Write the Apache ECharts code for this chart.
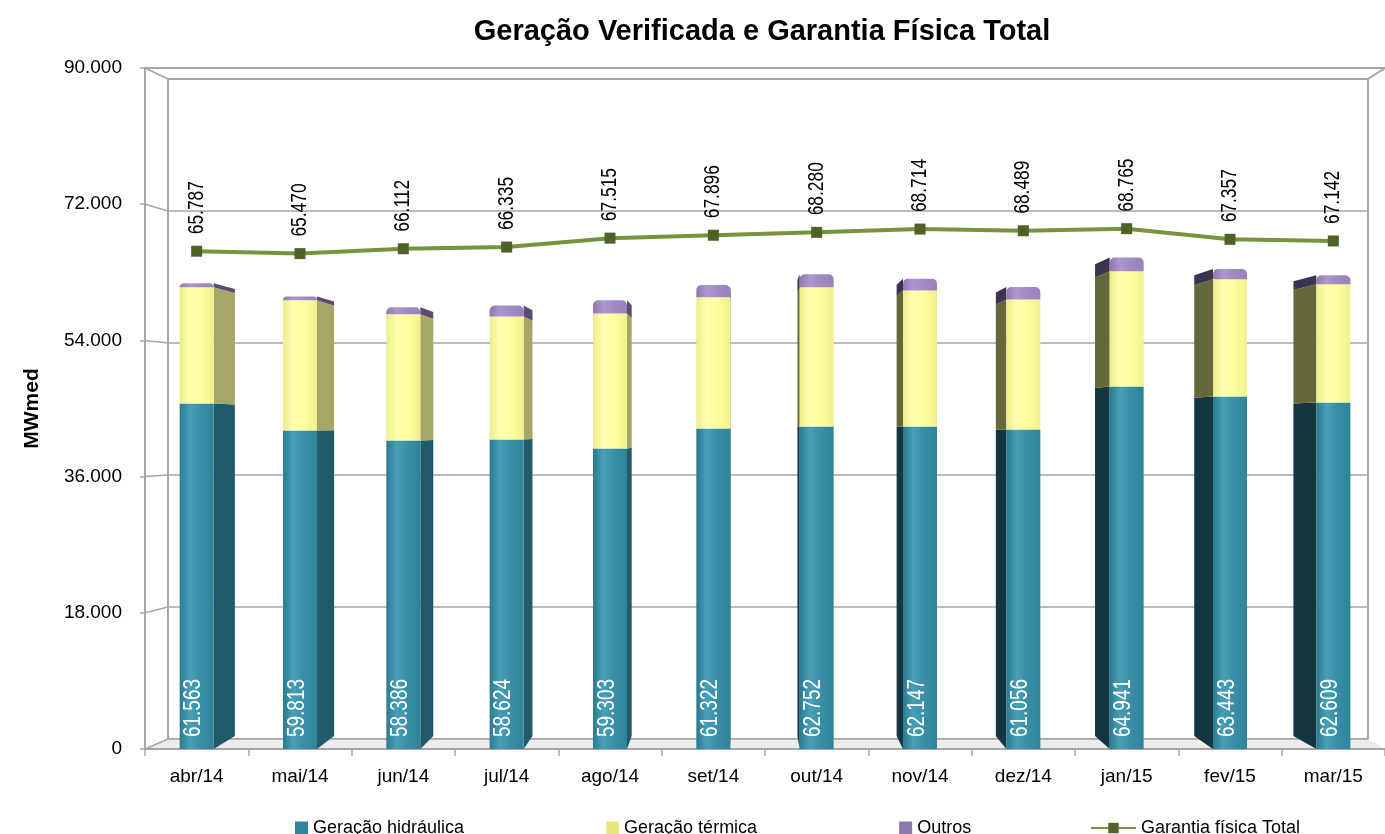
<!DOCTYPE html>
<html>
<head>
<meta charset="utf-8">
<script src="https://cdn.jsdelivr.net/npm/echarts@6/dist/echarts.min.js"></script>
<style>
  html, body { margin: 0; padding: 0; background: #fff; }
  #chart { width: 1385px; height: 834px; }
</style>
</head>
<body>
<div id="chart"></div>
<script>
const meses = ['abr/14', 'mai/14', 'jun/14', 'jul/14', 'ago/14', 'set/14', 'out/14', 'nov/14', 'dez/14', 'jan/15', 'fev/15', 'mar/15']
const hidraulica = [45660, 42090, 40760, 40890, 39700, 42350, 42620, 42620, 42220, 47910, 46590, 45790]
const termica = [15350, 17200, 16680, 16280, 17870, 17340, 18390, 17990, 17200, 15220, 15480, 15620]
const outros = [553, 523, 946, 1454, 1733, 1632, 1742, 1537, 1636, 1811, 1373, 1199]
const totalVerificado = [61563, 59813, 58386, 58624, 59303, 61322, 62752, 62147, 61056, 64941, 63443, 62609]
const garantia = [65787, 65470, 66112, 66335, 67515, 67896, 68280, 68714, 68489, 68765, 67357, 67142]
const yTicks = [0, 18000, 36000, 54000, 72000, 90000]

const SANS = '"Liberation Sans", Arial, sans-serif'

// front frame and back wall of the fake 3D box
const FRONT = { left: 145, right: 1385, top: 68, bottom: 749 }
const BACK = { left: 168, right: 1368, top: 79, bottom: 739 }
const VP = [744, 426]
const DEPTH = 0.96
const HALF = 17

const fmt = v => String(Math.round(v)).replace(/\B(?=(\d{3})+(?!\d))/g, '.')

const estilos = [
  { front: ['#2b7a90', '#47a0b7', '#3a8fa6', '#2f8399'], right: '#215a69', left: '#153540' },
  { front: ['#ecec8a', '#ffffb0', '#ffffa0', '#f0f08e'], right: '#a6a666', left: '#67673c' },
  { front: ['#8f78b0', '#ad97cf', '#a18bc4', '#9882ba'], right: '#5c4a72', left: '#3d3250' }
]

const proj = (x, y) => [VP[0] + (x - VP[0]) * DEPTH, VP[1] + (y - VP[1]) * DEPTH]

// vertical, slightly condensed text (scaleX squeezes along the reading direction)
const textoVertical = (x, y, text, color, size) => ({
  type: 'text',
  x: x,
  y: y,
  rotation: Math.PI / 2,
  scaleX: 0.79,
  style: { text, fill: color, fontSize: size, fontFamily: SANS, align: 'left', verticalAlign: 'middle' }
})

const makeRender = (idx) => (params, api) => {
  const i = api.value(0)
  const lo = api.value(1)
  const hi = api.value(2)
  const pLo = api.coord([i, lo])
  const pHi = api.coord([i, hi])
  const cx = pLo[0]
  const xl = cx - HALF
  const xr = cx + HALF
  const yT = pHi[1]
  const yB = pLo[1]
  const st = estilos[idx]
  const children = []
  if (xr < VP[0]) {
    children.push({
      type: 'polygon',
      shape: { points: [[xr, yT], proj(xr, yT), proj(xr, yB), [xr, yB]] },
      style: { fill: st.right }
    })
  } else if (xl > VP[0]) {
    children.push({
      type: 'polygon',
      shape: { points: [[xl, yT], proj(xl, yT), proj(xl, yB), [xl, yB]] },
      style: { fill: st.left }
    })
  }
  children.push({
    type: 'rect',
    shape: { x: xl, y: yT, width: HALF * 2, height: yB - yT, r: idx === 2 ? [5, 5, 0, 0] : 0 },
    style: {
      fill: new echarts.graphic.LinearGradient(0, 0, 1, 0, [
        { offset: 0, color: st.front[0] },
        { offset: 0.3, color: st.front[1] },
        { offset: 0.6, color: st.front[2] },
        { offset: 1, color: st.front[3] }
      ])
    }
  })
  if (idx === 0) {
    // total generation label at the foot of the bar
    children.push(textoVertical(cx - 3, yB - 12, fmt(totalVerificado[i]), '#fff', 24))
  }
  return { type: 'group', children }
}

const renderRotulo = (params, api) => {
  const p = api.coord([api.value(0), api.value(1)])
  return textoVertical(p[0], p[1] - 17, fmt(api.value(1)), '#000', 22)
}

const dadosHid = meses.map((m, i) => [i, 0, hidraulica[i]])
const dadosTer = meses.map((m, i) => [i, hidraulica[i], hidraulica[i] + termica[i]])
const dadosOut = meses.map((m, i) => [i, hidraulica[i] + termica[i], hidraulica[i] + termica[i] + outros[i]])
const dadosGar = meses.map((m, i) => [i, garantia[i]])

const yFront = v => FRONT.bottom - v * (FRONT.bottom - FRONT.top) / 90000
const yBack = v => BACK.bottom - v * (BACK.bottom - BACK.top) / 90000

const decor = [
  {
    type: 'polygon',
    z: 0,
    shape: { points: [[FRONT.left, FRONT.bottom], [BACK.left, BACK.bottom], [BACK.right, BACK.bottom], [FRONT.right, FRONT.bottom]] },
    style: { fill: '#ececec' }
  },
  {
    type: 'line',
    z: 1,
    shape: { x1: FRONT.right, y1: FRONT.top, x2: BACK.right, y2: BACK.top },
    style: { stroke: '#a6a6a6', lineWidth: 2 }
  }
]
yTicks.forEach(v => {
  decor.push({
    type: 'line',
    z: 1,
    shape: { x1: FRONT.left, y1: yFront(v), x2: BACK.left, y2: yBack(v) },
    style: { stroke: '#a6a6a6', lineWidth: 1.5 }
  })
})

const chart = echarts.init(document.getElementById('chart'))
const option = {
  animation: false,
  backgroundColor: '#fff',
  title: {
    text: 'Geração Verificada e Garantia Física Total',
    left: 757,
    textAlign: 'center',
    top: 12,
    textStyle: { fontFamily: SANS, fontWeight: 'bold', fontSize: 29, color: '#000' }
  },
  legend: [
    {
      data: ['Geração hidráulica', 'Geração térmica', 'Outros'],
      left: 290,
      top: 814,
      icon: 'rect',
      itemWidth: 13,
      itemHeight: 13,
      itemGap: 142,
      textStyle: { fontFamily: SANS, fontSize: 18, color: '#000' }
    },
    {
      data: ['Garantia física Total'],
      left: 1085,
      top: 814,
      itemWidth: 45,
      itemHeight: 13,
      textStyle: { fontFamily: SANS, fontSize: 18, color: '#000' }
    }
  ],
  grid: [
    {
      left: FRONT.left,
      top: FRONT.top,
      width: FRONT.right - FRONT.left,
      height: FRONT.bottom - FRONT.top
    },
    {
      left: BACK.left,
      top: BACK.top,
      width: BACK.right - BACK.left,
      height: BACK.bottom - BACK.top,
      show: true,
      borderColor: '#a6a6a6',
      borderWidth: 2,
      backgroundColor: 'transparent'
    }
  ],
  xAxis: [
    {
      type: 'category',
      gridIndex: 0,
      data: meses,
      boundaryGap: true,
      axisLine: { lineStyle: { color: '#a6a6a6', width: 2 } },
      axisTick: { show: true, length: 7, lineStyle: { color: '#a6a6a6', width: 1.5 } },
      axisLabel: { fontFamily: SANS, fontSize: 19, color: '#000', margin: 18, interval: 0 }
    },
    {
      type: 'category',
      gridIndex: 0,
      position: 'top',
      data: meses,
      axisLine: { lineStyle: { color: '#a6a6a6', width: 2 } },
      axisTick: { show: false },
      axisLabel: { show: false }
    },
    {
      type: 'category',
      gridIndex: 1,
      data: meses,
      show: false
    }
  ],
  yAxis: [
    {
      type: 'value',
      gridIndex: 0,
      min: yTicks[0],
      max: yTicks[yTicks.length - 1],
      interval: 18000,
      name: 'MWmed',
      nameLocation: 'middle',
      nameRotate: 90,
      nameGap: 102,
      nameTextStyle: { fontFamily: SANS, fontWeight: 'bold', fontSize: 21, color: '#000' },
      axisLine: { show: true, lineStyle: { color: '#a6a6a6', width: 2 } },
      axisTick: { show: true, length: 5, lineStyle: { color: '#a6a6a6', width: 1.5 } },
      axisLabel: { fontFamily: SANS, fontSize: 19, color: '#000', margin: 23, formatter: v => fmt(v) },
      splitLine: { show: false }
    },
    {
      type: 'value',
      gridIndex: 1,
      min: yTicks[0],
      max: yTicks[yTicks.length - 1],
      interval: 18000,
      axisLine: { show: false },
      axisTick: { show: false },
      axisLabel: { show: false },
      splitLine: { show: true, lineStyle: { color: '#a6a6a6', width: 1.5 } }
    }
  ],
  graphic: decor,
  series: [
    {
      name: 'Geração hidráulica',
      type: 'custom',
      xAxisIndex: 0,
      yAxisIndex: 0,
      z: 3,
      itemStyle: { color: '#31849b' },
      encode: { x: 0, y: [1, 2] },
      data: dadosHid,
      renderItem: makeRender(0)
    },
    {
      name: 'Geração térmica',
      type: 'custom',
      xAxisIndex: 0,
      yAxisIndex: 0,
      z: 3,
      itemStyle: { color: '#e8e87a' },
      encode: { x: 0, y: [1, 2] },
      data: dadosTer,
      renderItem: makeRender(1)
    },
    {
      name: 'Outros',
      type: 'custom',
      xAxisIndex: 0,
      yAxisIndex: 0,
      z: 3,
      itemStyle: { color: '#8f78b0' },
      encode: { x: 0, y: [1, 2] },
      data: dadosOut,
      renderItem: makeRender(2)
    },
    {
      name: 'Garantia física Total',
      type: 'line',
      xAxisIndex: 0,
      yAxisIndex: 0,
      z: 5,
      data: garantia,
      symbol: 'rect',
      symbolSize: 11,
      lineStyle: { color: '#77933c', width: 4 },
      itemStyle: { color: '#4f6228' }
    },
    {
      name: 'rotulos garantia',
      type: 'custom',
      xAxisIndex: 0,
      yAxisIndex: 0,
      z: 6,
      silent: true,
      encode: { x: 0, y: 1 },
      data: dadosGar,
      renderItem: renderRotulo
    }
  ]
}
chart.setOption(option)
</script>
</body>
</html>
